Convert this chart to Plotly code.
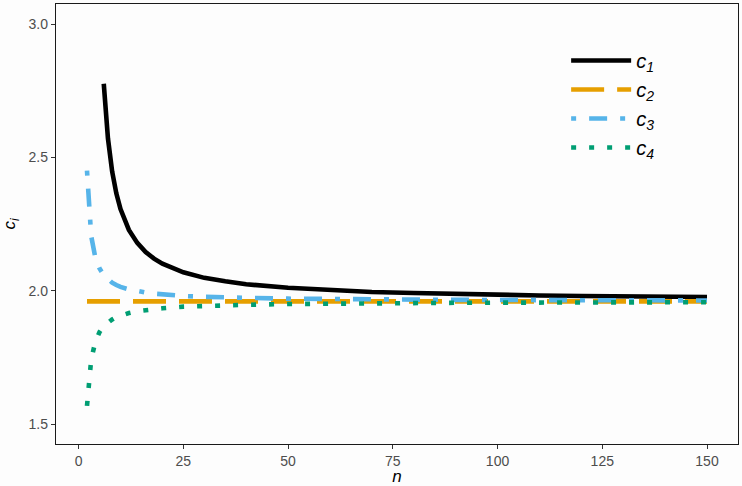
"""Coefficients c_i against sample size n."""

import plotly.graph_objects as go

# sample sizes
n_vals = [2, 3, 4, 5, 6, 7, 8, 9, 10, 12, 14, 16, 18, 20, 25, 30, 35, 40,
          50, 60, 70, 80, 90, 100, 110, 120, 130, 140, 150]

# c1 is off the top of the plot for n < 6
n_c1 = [6, 7, 8, 9, 10, 12, 14, 16, 18, 20, 25, 30, 35, 40,
        50, 60, 70, 80, 90, 100, 110, 120, 130, 140, 150]
c1 = [2.776, 2.571, 2.447, 2.365, 2.306, 2.228, 2.179, 2.145, 2.120, 2.101,
      2.069, 2.048, 2.035, 2.024, 2.011, 2.002, 1.995, 1.991, 1.987, 1.984,
      1.982, 1.980, 1.979, 1.977, 1.976]
c2 = [1.96] * len(n_vals)
c3 = [2.450, 2.205, 2.123, 2.083, 2.058, 2.042, 2.030, 2.021, 2.014, 2.005,
      1.998, 1.993, 1.989, 1.986, 1.980, 1.977, 1.974, 1.973, 1.970, 1.968,
      1.967, 1.966, 1.9655, 1.965, 1.9645, 1.964, 1.9638, 1.9635, 1.9633]
c4 = [1.568, 1.742, 1.809, 1.845, 1.867, 1.882, 1.892, 1.901, 1.907, 1.916,
      1.923, 1.928, 1.931, 1.934, 1.940, 1.943, 1.946, 1.947, 1.950, 1.952,
      1.953, 1.954, 1.9545, 1.955, 1.9555, 1.956, 1.9562, 1.9565, 1.9567]

x_ticks = [0, 25, 50, 75, 100, 125, 150]
y_ticks = [1.5, 2.0, 2.5, 3.0]

series = [
    ("<i>c</i><sub><i>1</i></sub>", n_c1, c1, "#000000", "solid"),
    ("<i>c</i><sub><i>2</i></sub>", n_vals, c2, "#E69F00", "33px,13px"),
    ("<i>c</i><sub><i>3</i></sub>", n_vals, c3, "#56B4E9", "5px,13px,18px,13px"),
    ("<i>c</i><sub><i>4</i></sub>", n_vals, c4, "#009E73", "5px,13px"),
]

fig = go.Figure()
for name, xs, ys, color, dash in series:
    fig.add_trace(go.Scatter(
        x=xs, y=ys, name=name, mode="lines",
        line=dict(color=color, width=4.6, dash=dash),
    ))

axis_common = dict(
    showgrid=False, zeroline=False,
    showline=True, mirror=True, linecolor="#1a1a1a", linewidth=1.3,
    ticks="outside", ticklen=4, tickcolor="#333333", tickwidth=1,
    tickfont=dict(size=14, color="#4D4D4D"),
)

fig.update_xaxes(
    range=[-5.4, 157.4], tickvals=x_ticks,
    title=dict(text="<i>n</i>", font=dict(size=17, color="#000000"), standoff=2),
    **axis_common,
)
fig.update_yaxes(
    range=[1.425, 3.075], tickvals=y_ticks, tickformat=".1f",
    title=dict(text="<i>c</i><sub><i>i</i></sub>", font=dict(size=17, color="#000000"), standoff=8),
    **axis_common,
)

fig.update_layout(
    width=742, height=486,
    margin=dict(l=56, r=4, t=3, b=41),
    font=dict(family="Liberation Sans, Arial, sans-serif"),
    plot_bgcolor="#FDFDFD", paper_bgcolor="#FDFDFD",
    legend=dict(
        x=0.748, y=0.916, xanchor="left", yanchor="top",
        bgcolor="rgba(0,0,0,0)",
        font=dict(size=20, color="#000000"),
        itemwidth=60,
        tracegroupgap=0,
    ),
)

# drop the browser's default body margin so the 742x486 figure fills the window
fig.write_html(
    "out.html",
    config={"displayModeBar": False},
    post_script="document.body.style.margin='0';document.body.style.overflow='hidden';",
)
